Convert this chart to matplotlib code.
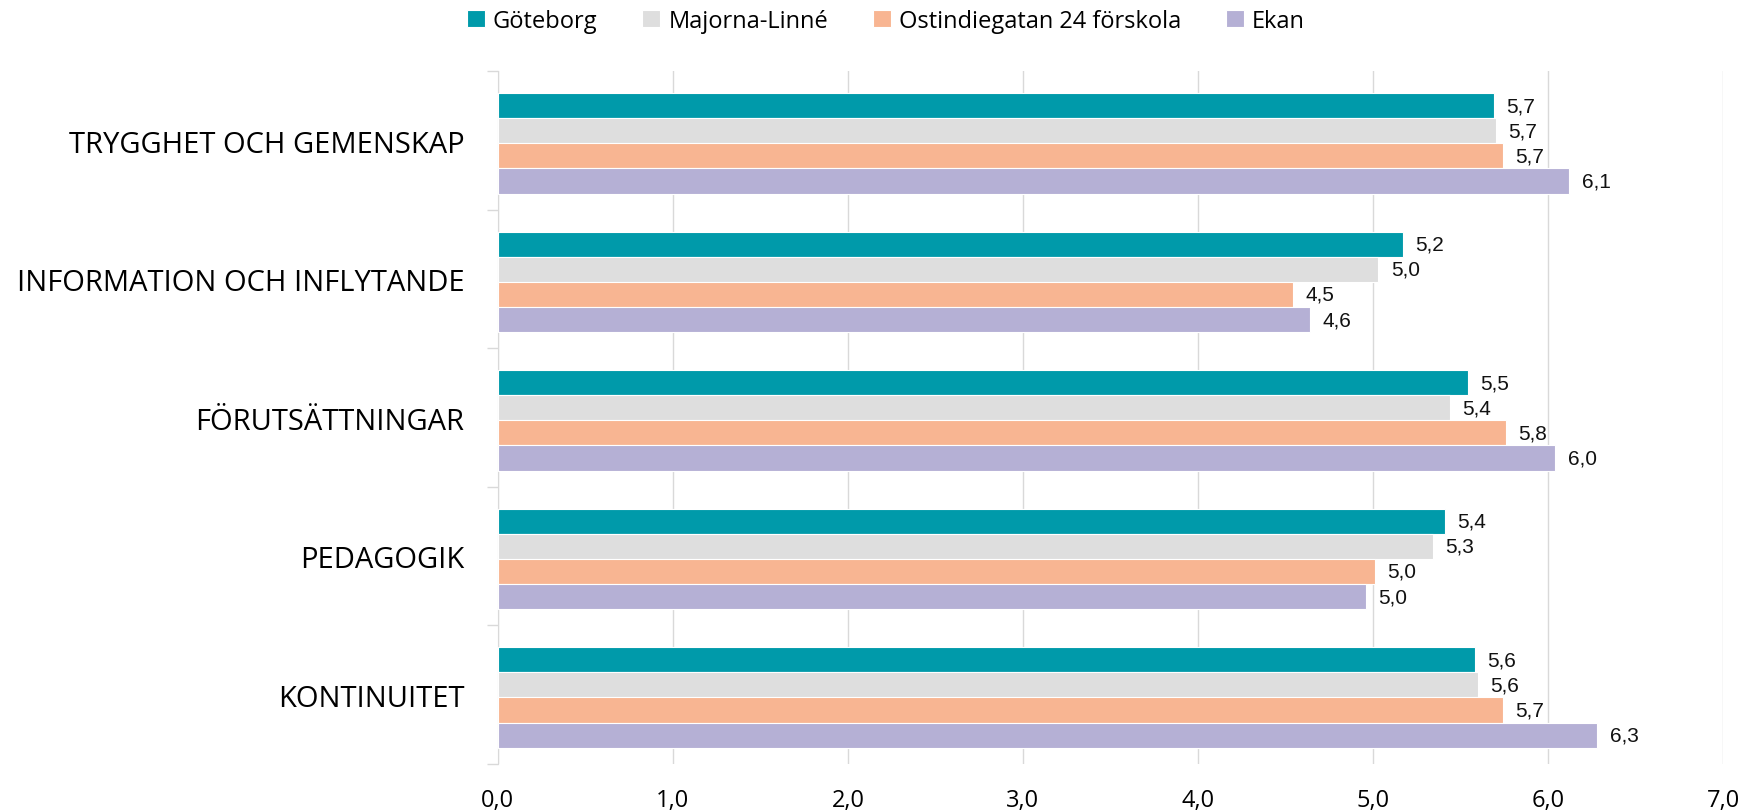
import numpy as np
import matplotlib

matplotlib.use("Agg")
import matplotlib.pyplot as plt
from matplotlib.ticker import MultipleLocator

# Data
categories = [
    "TRYGGHET OCH GEMENSKAP",
    "INFORMATION OCH INFLYTANDE",
    "FÖRUTSÄTTNINGAR",
    "PEDAGOGIK",
    "KONTINUITET",
]
series_names = ["Göteborg", "Majorna-Linné", "Ostindiegatan 24 förskola", "Ekan"]
goteborg = [5.69, 5.17, 5.54, 5.41, 5.58]
majorna = [5.70, 5.03, 5.44, 5.34, 5.60]
ostindie = [5.74, 4.54, 5.76, 5.01, 5.74]
ekan = [6.12, 4.64, 6.04, 4.96, 6.28]
series_values = [goteborg, majorna, ostindie, ekan]
x_ticks = [0, 1, 2, 3, 4, 5, 6, 7]

colors = ["#009AAA", "#DEDEDE", "#F8B592", "#B5B0D5"]
grid_col = "#D9D9D9"

fig = plt.figure(figsize=(17.44, 8.12), dpi=100)
ax = fig.add_axes([0.2855, 0.058, 0.7025, 0.853])

y = np.arange(len(categories))
h = 0.1815
offsets = [-1.5 * h, -0.5 * h, 0.5 * h, 1.5 * h]

for name, vals, col, off in zip(series_names, series_values, colors, offsets):
    bars = ax.barh(y + off + 0.02, vals, height=h, color=col, edgecolor="white",
                   linewidth=0.8, label=name, zorder=3)
    for b, v in zip(bars, vals):
        ax.annotate(f"{v:.1f}".replace(".", ","),
                    xy=(b.get_width(), b.get_y() + b.get_height() / 2),
                    xytext=(9, 0), textcoords="offset points",
                    va="center", ha="left", fontsize=15,
                    family="Liberation Sans", color="#111111")

ax.set_xlim(0, 7)
ax.set_ylim(len(categories) - 0.5, -0.5)
ax.set_xticks(x_ticks)
ax.set_xticklabels([f"{t:.1f}".replace(".", ",") for t in x_ticks],
                   fontsize=17, family="Open Sans")
ax.set_yticks(y)
ax.set_yticklabels(categories, fontsize=21, family="Open Sans")
ax.yaxis.set_minor_locator(MultipleLocator(1, offset=0.5))

ax.tick_params(axis="x", length=0, pad=17)
ax.tick_params(axis="y", which="major", length=0, pad=24)
ax.tick_params(axis="y", which="minor", length=8, color=grid_col, width=1)

for s in ["top", "right", "bottom"]:
    ax.spines[s].set_visible(False)
ax.spines["left"].set_color(grid_col)
ax.grid(axis="x", color=grid_col, linewidth=1, zorder=0)

fig.legend(loc="center", bbox_to_anchor=(0.508, 0.973), ncol=4, frameon=False,
           prop={"family": "Open Sans", "size": 17}, handlelength=0.75,
           handleheight=0.75, handletextpad=0.35, columnspacing=1.9)

fig.savefig("out.png", dpi=100)
